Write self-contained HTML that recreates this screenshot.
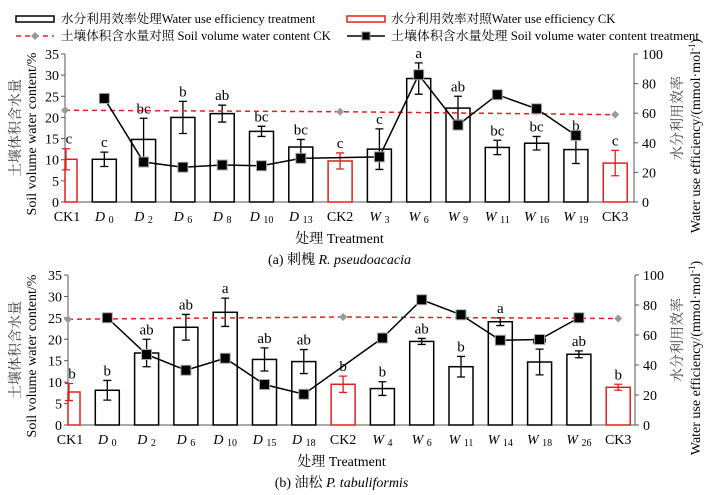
<!DOCTYPE html>
<html><head><meta charset="utf-8"><style>
body{margin:0;background:#fff;}
svg text{font-family:"Liberation Serif","Noto Serif CJK SC",serif;}
</style></head><body>
<svg id="svg" width="711" height="490" xmlns="http://www.w3.org/2000/svg">
<g font-size="12.6">
 <g><rect x="16" y="16" width="38" height="6" fill="#fff" stroke="#000" stroke-width="1.5"/><text x="61" y="23">水分利用效率处理Water use efficiency treatment</text></g>
 <g><rect x="347" y="16" width="38" height="6" fill="#fff" stroke="#e02020" stroke-width="1.5"/><text x="391" y="23">水分利用效率对照Water use efficiency CK</text></g>
 <g><line x1="16" y1="36" x2="54" y2="36" stroke="#e02020" stroke-width="1.5" stroke-dasharray="5,4"/><path d="M35 32 L39 36 L35 40 L31 36Z" fill="#999"/><text x="61" y="40">土壤体积含水量对照 Soil volume water content CK</text></g>
 <g><line x1="347" y1="36" x2="385" y2="36" stroke="#000" stroke-width="1.5"/><rect x="362" y="32" width="8" height="8" fill="#000" stroke="#999"/><text x="391" y="40" textLength="308" lengthAdjust="spacingAndGlyphs">土壤体积含水量处理 Soil volume water content treatment</text></g>
</g>
<g id="pa"></g>
<g id="pb"></g>
</svg>
<script>
const catsA=["CK1","D|0","D|2","D|6","D|8","D|10","D|13","CK2","W|3","W|6","W|9","W|11","W|16","W|19","CK3"];
const wueA=[10.1,10.1,14.8,20,20.9,16.7,13,9.7,12.5,29.2,22.2,12.9,13.9,12.4,9.2];
const errA=[2.5,1.7,5,3.8,2,1.2,1.8,1.9,4.8,3.7,2.8,1.7,1.6,3.3,3];
const letA=["c","c","bc","b","ab","bc","bc","c","c","a","ab","bc","bc","b","c"];
const swcA=[null,70,27,23.5,25,24.5,29.5,null,30.5,86,52,72.5,63,45,null];
const ckA=[62,61,59];
const catsB=["CK1","D|0","D|2","D|6","D|10","D|15","D|18","CK2","W|4","W|6","W|11","W|14","W|18","W|26","CK3"];
const wueB=[7.7,8.1,16.8,22.8,26.3,15.3,14.8,9.5,8.5,19.5,13.6,24.1,14.7,16.5,8.8];
const errB=[2,2.3,3.2,3,3.3,2.7,2.8,1.9,1.6,0.7,2.4,0.9,3,0.8,0.7];
const letB=["b","b","ab","ab","a","ab","ab","b","b","ab","b","a","ab","ab","b"];
const swcB=[null,71.5,47,36.5,44.5,27,20.5,null,58,83.5,73.5,56.5,57,71.5,null];
const ckB=[70.5,72,71];
const ticksL=[0,5,10,15,20,25,30,35];
const ticksR=[0,20,40,60,80,100];
const NS="http://www.w3.org/2000/svg";
function mk(p,t,a){const e=document.createElementNS(NS,t);for(const k in a)e.setAttribute(k,a[k]);p.appendChild(e);return e;}
function panel(g,o,cats,wue,err,lets,swc,ck,caption){
 const L=o.left,R=o.right,T=o.top,B=o.bottom,step=39.3;
 const x=i=>L+i*step;
 const yl=v=>B-(v/35)*(B-T);
 const yr=v=>B-(v/100)*(B-T);
 let ax=mk(g,'line',{x1:L,y1:T,x2:L,y2:B,stroke:'#555','stroke-width':1});
 
 ax=mk(g,'line',{x1:R,y1:T,x2:R,y2:B,stroke:'#555','stroke-width':1});
 
 ax=mk(g,'line',{x1:L,y1:B,x2:R,y2:B,stroke:'#555','stroke-width':1});
 
 ticksL.forEach(v=>{mk(g,'line',{x1:L-4,y1:yl(v),x2:L,y2:yl(v),stroke:'#555'});
  const t=mk(g,'text',{x:L-6,y:yl(v)+5,'text-anchor':'end','font-size':14});t.textContent=v;
  });
 ticksR.forEach(v=>{mk(g,'line',{x1:R,y1:yr(v),x2:R+4,y2:yr(v),stroke:'#555'});
  const t=mk(g,'text',{x:R+8,y:yr(v)+5,'font-size':14});t.textContent=v;
  });
 cats.forEach((c,i)=>{
  const ck=c.startsWith("CK");const col=ck?'#e02020':'#000';
  let x0=x(i)-12,w=24;if(i===0){x0=L;w=12;}
  const r=mk(g,'rect',{x:x0,y:yl(wue[i]),width:w,height:B-yl(wue[i]),fill:'#fff',stroke:col,'stroke-width':1.5});
  
  const ex=i===0?L+1:x(i);
  const e1=yl(wue[i]+err[i]),e2=yl(wue[i]-err[i]);
  const eb=mk(g,'path',{d:`M${ex} ${e1}V${e2}M${ex-4} ${e1}H${ex+4}M${ex-4} ${e2}H${ex+4}`,stroke:col,'stroke-width':1.3,fill:'none'});
  
  const lt=mk(g,'text',{x:i===0?L+4:x(i),y:e1-5,'text-anchor':'middle','font-size':15});lt.textContent=lets[i];
  
  const xl=mk(g,'text',{x:x(i)+(i===0?2:0),y:B+19,'text-anchor':'middle','font-size':14});
  
  if(c.includes('|')){const [a,b]=c.split('|');const s1=mk(xl,'tspan',{'font-style':'italic'});s1.textContent=a+' ';const s2=mk(xl,'tspan',{'font-size':10,dy:2});s2.textContent=b;}
  else xl.textContent=c;
 });
 const ckIdx=[0,7,14];
 const dl=mk(g,'polyline',{points:ckIdx.map((k,j)=>x(k)+','+yr(ck[j])).join(' '),fill:'none',stroke:'#e02020','stroke-width':1.5,'stroke-dasharray':'5,4'});
 
 ckIdx.forEach((k,j)=>{const d=mk(g,'path',{d:`M${x(k)} ${yr(ck[j])-4}l4 4l-4 4l-4 -4Z`,fill:'#999'});
  });
 const pts=[];swc.forEach((v,i)=>{if(v!==null)pts.push([x(i),yr(v)]);});
 const pl=mk(g,'polyline',{points:pts.map(p=>p.join(',')).join(' '),fill:'none',stroke:'#000','stroke-width':1.5});
 
 pts.forEach(p=>{const m=mk(g,'rect',{x:p[0]-5,y:p[1]-5,width:10,height:10,fill:'#000',stroke:'#aaa','stroke-width':1});
  });
 let t=mk(g,'text',{transform:`translate(20,${(T+B)/2}) rotate(-90)`,'text-anchor':'middle','font-size':14,fill:'#444'});t.textContent='土壤体积含水量';
 
 t=mk(g,'text',{transform:`translate(36,${(T+B)/2+6}) rotate(-90)`,'text-anchor':'middle','font-size':14});t.textContent='Soil volume water content/%';
 
 t=mk(g,'text',{transform:`translate(682,${(T+B)/2-10}) rotate(-90)`,'text-anchor':'middle','font-size':14,fill:'#444'});t.textContent='水分利用效率';
 
 t=mk(g,'text',{transform:`translate(700,${(T+B)/2+8}) rotate(-90)`,'text-anchor':'middle','font-size':14});t.innerHTML='Water use efficiency/(mmol·mol<tspan font-size="9" dy="-5">-1</tspan><tspan dy="5">)</tspan>';
 
 t=mk(g,'text',{x:(L+R)/2-10,y:B+41,'text-anchor':'middle','font-size':14});t.textContent='处理 Treatment';
 
 t=mk(g,'text',{x:(L+R)/2-10,y:B+62,'text-anchor':'middle','font-size':14});t.innerHTML=caption;
 
}
panel(document.getElementById('pa'),{left:65,right:634,top:54,bottom:202},catsA,wueA,errA,letA,swcA,ckA,'(a) 刺槐 <tspan font-style="italic">R. pseudoacacia</tspan>');
panel(document.getElementById('pb'),{left:68,right:635,top:275,bottom:425},catsB,wueB,errB,letB,swcB,ckB,'(b) 油松 <tspan font-style="italic">P. tabuliformis</tspan>');
</script>
</body></html>
